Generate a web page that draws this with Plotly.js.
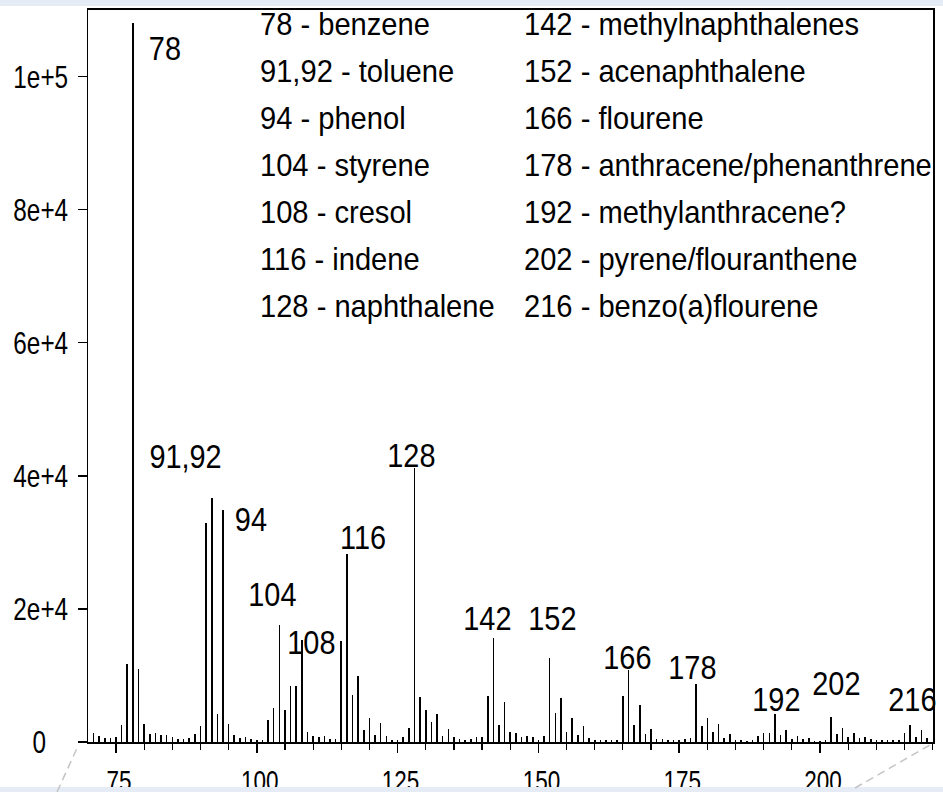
<!DOCTYPE html>
<html>
<head>
<meta charset="utf-8">
<script src="https://cdn.plot.ly/plotly-3.0.1.min.js"></script>
<style>
  html, body { margin: 0; padding: 0; background: #ffffff; }
  #chart { width: 943px; height: 792px; }
</style>
</head>
<body>
<div id="chart"></div>
<script>
// ---- data ----
const mz = [71,72,73,74,75,76,77,78,79,80,81,82,83,84,85,86,87,88,89,90,
  91,92,93,94,95,96,97,98,99,100,101,102,103,104,105,106,107,108,109,110,
  111,112,113,114,115,116,117,118,119,120,121,122,123,124,125,126,127,128,129,130,
  131,132,133,134,135,136,137,138,139,140,141,142,143,144,145,146,147,148,149,150,
  151,152,153,154,155,156,157,158,159,160,161,162,163,164,165,166,167,168,169,170,
  171,172,173,174,175,176,177,178,179,180,181,182,183,184,185,186,187,188,189,190,
  191,192,193,194,195,196,197,198,199,200,201,202,203,204,205,206,207,208,209,210,
  211,212,213,214,215,216,217,218,219];
const intensity = [1350,850,600,600,700,2500,11700,108000,10900,2650,1200,1350,1000,1050,700,450,450,550,1250,2400,
  32900,36700,4260,34900,2750,1100,650,700,500,350,350,3350,5150,17650,4860,8380,8380,15400,1500,950,
  750,900,400,400,15140,28300,7020,9930,1750,3610,1100,2800,850,350,250,700,2050,41200,6770,4810,
  3060,4210,850,1900,700,500,250,400,750,800,6970,15690,2500,6020,1450,1350,700,950,700,350,
  900,12580,4310,6620,1500,3610,1050,2400,650,350,300,300,300,300,6870,10780,2500,5620,1150,1900,
  500,500,250,250,250,450,650,8770,2360,3610,1500,2760,600,1150,250,250,150,250,850,1400,
  1350,4160,1100,1750,400,950,400,650,150,150,250,3760,1250,2110,750,1350,650,750,400,250,
  250,250,250,250,1300,2500,750,1850,600];

const peakLabels = ["78","91,92","94","104","108","116","128","142","152","166","178","192","202","216"];
const legendLeft = ["78 - benzene","91,92 - toluene","94 - phenol","104 - styrene","108 - cresol","116 - indene","128 - naphthalene"];
const legendRight = ["142 - methylnaphthalenes","152 - acenaphthalene","166 - flourene","178 - anthracene/phenanthrene","192 - methylanthracene?","202 - pyrene/flouranthene","216 - benzo(a)flourene"];

const xTickVals = [75,100,125,150,175,200];
const xTickText = ["75","100","125","150","175","200"];
const yTickVals = [0,20000,40000,60000,80000,100000];
const yTickText = ["0","2e+4","4e+4","6e+4","8e+4","1e+5"];

// ---- layout helpers (pixel geometry) ----
const W = 943, H = 792;
const L = 88, R = 10, T = 10, B = 50;
const PW = W - L - R, PH = H - T - B;
const px = v => (v - L) / PW;          // pixel x -> paper x
const py = v => (H - B - v) / PH;      // pixel y -> paper y

const FONT = '"Liberation Sans", Arial, sans-serif';

// peak label positions (pixel centres)
const peakPos = [[165,46],[185,454],[251,517],[272,592],[311,640],[363,535],[411,453],
  [487,616],[552,616],[627,655],[692,665],[776,697],[836,681],[912,697]];

const annotations = [];
peakLabels.forEach((t, i) => {
  annotations.push({
    text: t, xref: 'paper', yref: 'paper',
    x: px(peakPos[i][0]), y: py(peakPos[i][1] + 2),
    xanchor: 'center', yanchor: 'middle', showarrow: false, align: 'center',
    font: {family: FONT, size: 34, color: '#000'}
  });
});
const rowY0 = 22, rowStep = 47;
legendLeft.forEach((t, i) => {
  annotations.push({
    text: t, xref: 'paper', yref: 'paper',
    x: px(258), y: py(rowY0 + i * rowStep + 2),
    xanchor: 'left', yanchor: 'middle', showarrow: false, align: 'left',
    font: {family: FONT, size: 32, color: '#000'}
  });
});
legendRight.forEach((t, i) => {
  annotations.push({
    text: t, xref: 'paper', yref: 'paper',
    x: px(522), y: py(rowY0 + i * rowStep + 2),
    xanchor: 'left', yanchor: 'middle', showarrow: false, align: 'left',
    font: {family: FONT, size: 32, color: '#000'}
  });
});

const bandColor = '#e6ecf5';
const shapes = [
  {type: 'rect', xref: 'paper', yref: 'paper', x0: px(0), x1: px(W), y0: py(0), y1: py(6),
   fillcolor: bandColor, line: {width: 0}, layer: 'above'},
  {type: 'rect', xref: 'paper', yref: 'paper', x0: px(0), x1: px(W), y0: py(787), y1: py(H),
   fillcolor: bandColor, line: {width: 0}, layer: 'above'},
  {type: 'line', xref: 'paper', yref: 'paper', x0: px(57), y0: py(792), x1: px(78), y1: py(746),
   line: {color: '#c4c4c4', width: 1.5, dash: '8px,5px'}},
  {type: 'line', xref: 'paper', yref: 'paper', x0: px(855), y0: py(788), x1: px(930), y1: py(745),
   line: {color: '#c4c4c4', width: 1.5, dash: '8px,5px'}}
];

const trace = {
  type: 'bar', x: mz, y: intensity, width: 0.28,
  marker: {color: '#000', line: {width: 0}},
  hoverinfo: 'skip'
};

const layout = {
  width: W, height: H,
  margin: {l: L, r: R, t: T, b: B, pad: 0},
  paper_bgcolor: '#ffffff', plot_bgcolor: '#ffffff',
  showlegend: false,
  bargap: 0,
  xaxis: {
    range: [70.03, 220.06], tickmode: 'array', tickvals: xTickVals, ticktext: xTickText,
    ticks: 'outside', ticklen: 9, tickwidth: 1.5, tickcolor: '#000',
    minor: {dtick: 5, ticks: 'outside', ticklen: 6, tickwidth: 1.2, tickcolor: '#000'},
    showline: true, linecolor: '#000', linewidth: 2, mirror: true,
    showgrid: false, zeroline: false, ticklabelstandoff: 2,
    tickfont: {family: FONT, size: 30, color: '#000'}
  },
  yaxis: {
    range: [0, 110000], tickmode: 'array', tickvals: yTickVals, ticktext: yTickText,
    ticks: 'outside', ticklen: 9, tickwidth: 1.5, tickcolor: '#000',
    showline: true, linecolor: '#000', linewidth: 1.5, mirror: true,
    showgrid: false, zeroline: false, ticklabelstandoff: 3,
    tickfont: {family: FONT, size: 32, color: '#000'}
  },
  annotations: annotations,
  shapes: shapes
};

// horizontally condense a text element about its own anchor x
function squeeze(el, s, dx) {
  const x = parseFloat(el.getAttribute('x') || '0');
  const t = el.getAttribute('transform') || '';
  el.setAttribute('transform',
    t + ' translate(' + (dx || 0) + ',0) translate(' + x + ',0) scale(' + s + ',1) translate(' + (-x) + ',0)');
}

Plotly.newPlot('chart', [trace], layout, {staticPlot: true, displayModeBar: false}).then(gd => {
  gd.querySelectorAll('.annotation-text').forEach(el => {
    const txt = el.textContent;
    const isLegend = legendLeft.indexOf(txt) >= 0 || legendRight.indexOf(txt) >= 0;
    squeeze(el, isLegend ? 0.91 : 0.85, 0);
  });
  gd.querySelectorAll('.xtick text').forEach(el => squeeze(el, 0.75, 3));
  gd.querySelectorAll('.ytick text').forEach(el => {
    squeeze(el, 0.76, el.textContent === '0' ? -22 : 0);
  });
});
</script>
</body>
</html>
